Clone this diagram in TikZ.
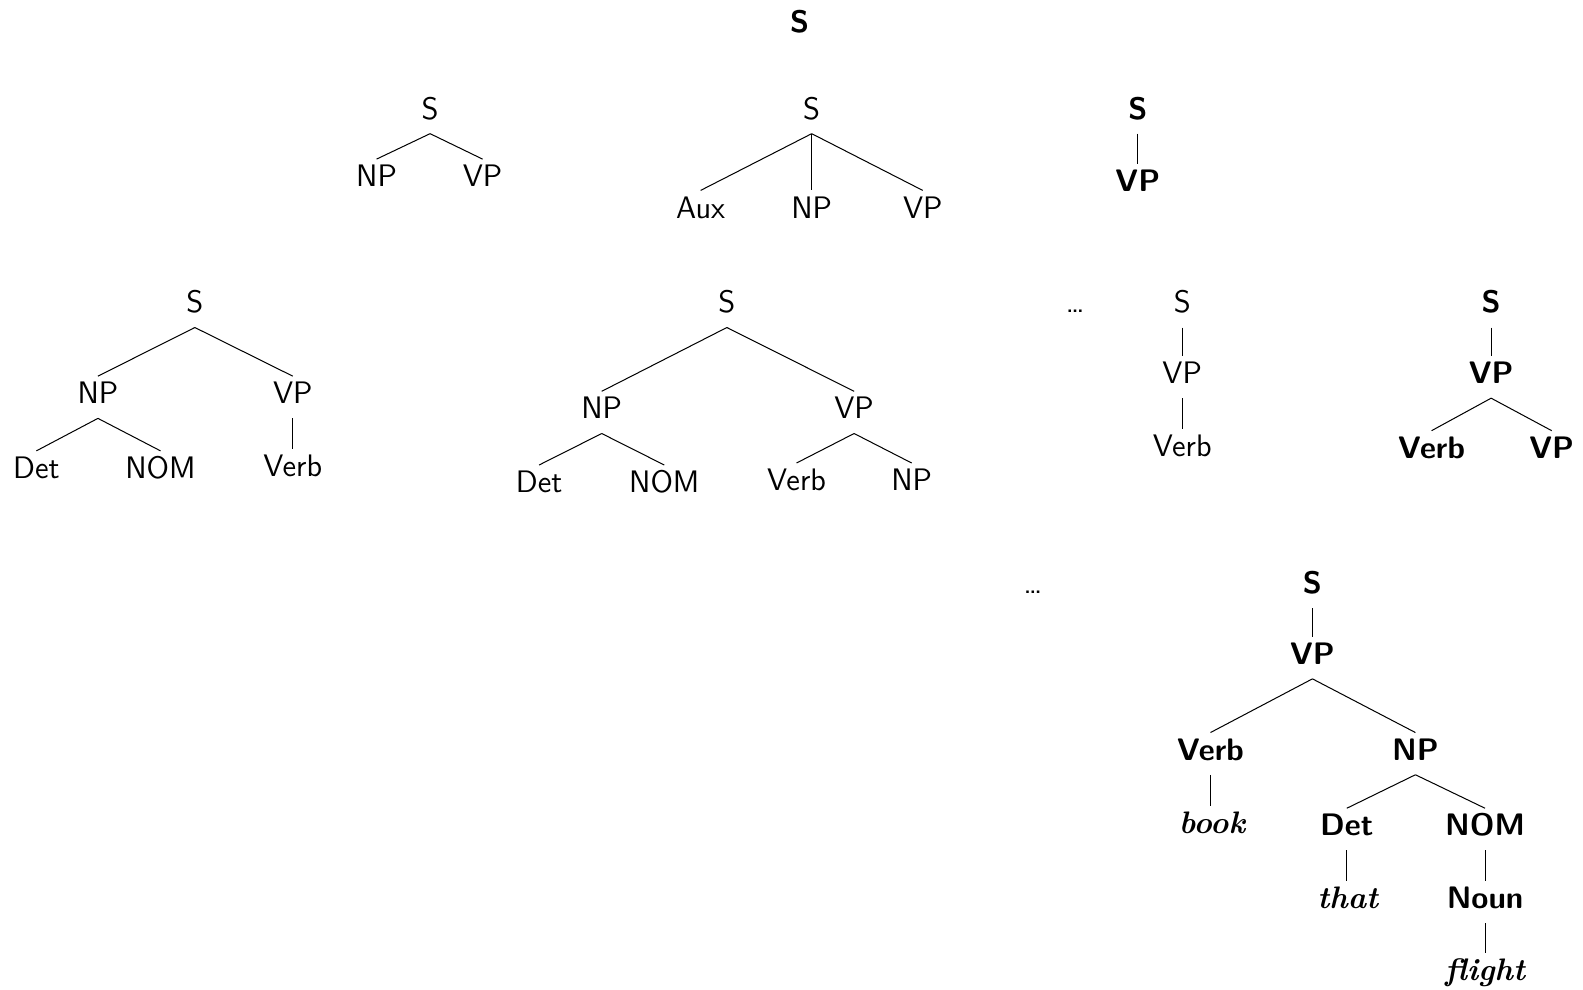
\documentclass[tikz,border=0pt]{standalone}
\usepackage{fontspec}
\tikzset{
  lab/.style={anchor=base, inner sep=2pt, text height=11.5pt, text depth=5pt,
    font=\fontsize{15.4}{18}\selectfont\sffamily},
  blab/.style={lab, font=\fontsize{15.4}{18}\selectfont\sffamily\bfseries},
  wlab/.style={lab, font=\fontsize{15.4}{18}\selectfont\rmfamily\bfseries\itshape},
  wslab/.style={lab, font=\fontsize{15.4}{18}\selectfont\rmfamily\bfseries\itshape\addfontfeatures{LetterSpace=#1}},
  edge/.style={line width=0.5pt},
}
\begin{document}
\begin{tikzpicture}[x=0.5pt,y=-0.5pt]
\useasboundingbox (0,0) rectangle (1568,980);
% top
\node[blab] (top) at (792,32) {S};
% tree A
\node[lab] (aS) at (426,118) {S};
\node[lab] (aNP) at (373,185) {NP};
\node[lab] (aVP) at (478,185) {VP};
\draw[edge] (aS.south) -- (aNP.north);
\draw[edge] (aS.south) -- (aVP.north);
% tree B
\node[lab] (bS) at (804,118) {S};
\node[lab] (bAux) at (694,216) {Aux};
\node[lab] (bNP) at (804,216) {NP};
\node[lab] (bVP) at (914,216) {VP};
\draw[edge] (bS.south) -- (bAux.north);
\draw[edge] (bS.south) -- (bNP.north);
\draw[edge] (bS.south) -- (bVP.north);
% tree C
\node[blab] (cS) at (1127,118) {S};
\node[blab] (cVP) at (1127,190) {VP};
\draw[edge] (cS.south) -- (cVP.north);
% tree D
\node[lab] (dS) at (193,310) {S};
\node[lab] (dNP) at (97,400) {NP};
\node[lab] (dVP) at (290,400) {VP};
\node[lab] (dDet) at (36,474) {Det};
\node[lab] (dNOM) at (159,474) {NOM};
\node[lab] (dVerb) at (290,472) {Verb};
\draw[edge] (dS.south) -- (dNP.north);
\draw[edge] (dS.south) -- (dVP.north);
\draw[edge] (dNP.south) -- (dDet.north);
\draw[edge] (dNP.south) -- (dNOM.north);
\draw[edge] (dVP.south) -- (dVerb.north);
% tree E
\node[lab] (eS) at (720,310) {S};
\node[lab] (eNP) at (596,415) {NP};
\node[lab] (eVP) at (846,415) {VP};
\node[lab] (eDet) at (534,488) {Det};
\node[lab] (eNOM) at (658,488) {NOM};
\node[lab] (eVerb) at (789,486) {Verb};
\node[lab] (eNP2) at (903,486) {NP};
\draw[edge] (eS.south) -- (eNP.north);
\draw[edge] (eS.south) -- (eVP.north);
\draw[edge] (eNP.south) -- (eDet.north);
\draw[edge] (eNP.south) -- (eNOM.north);
\draw[edge] (eVP.south) -- (eVerb.north);
\draw[edge] (eVP.south) -- (eNP2.north);
% dots
\node[lab] (dots1) at (1065,310) {\dots};
\node[lab] (dots2) at (1023,588) {\dots};
% tree F
\node[lab] (fS) at (1171,310) {S};
\node[lab] (fVP) at (1171,380) {VP};
\node[lab] (fVerb) at (1171,452) {Verb};
\draw[edge] (fS.south) -- (fVP.north);
\draw[edge] (fVP.south) -- (fVerb.north);
% tree G
\node[blab] (gS) at (1477,310) {S};
\node[blab] (gVP) at (1477,380) {VP};
\node[blab] (gVerb) at (1418,454) {Verb};
\node[blab] (gVP2) at (1537,454) {VP};
\draw[edge] (gS.south) -- (gVP.north);
\draw[edge] (gVP.south) -- (gVerb.north);
\draw[edge] (gVP.south) -- (gVP2.north);
% tree H
\node[blab] (hS) at (1300,588) {S};
\node[blab] (hVP) at (1300,658) {VP};
\node[blab] (hVerb) at (1199,753) {Verb};
\node[blab] (hNP) at (1402,753) {NP};
\node[wslab=9] (hbook) at (1200.5,826) {book};
\node[blab] (hDet) at (1334,828) {Det};
\node[blab] (hNOM) at (1471,828) {NOM};
\node[wslab=6] (hthat) at (1335,900) {that};
\node[blab] (hNoun) at (1471,900) {Noun};
\node[wlab] (hflight) at (1471,971) {flight};
\draw[edge] (hS.south) -- (hVP.north);
\draw[edge] (hVP.south) -- (hVerb.north);
\draw[edge] (hVP.south) -- (hNP.north);
\draw[edge] (hVerb.south) -- (hVerb.south |- hbook.north);
\draw[edge] (hNP.south) -- (hDet.north);
\draw[edge] (hNP.south) -- (hNOM.north);
\draw[edge] (hDet.south) -- (hDet.south |- hthat.north);
\draw[edge] (hNOM.south) -- (hNoun.north);
\draw[edge] (hNoun.south) -- (hflight.north);
\end{tikzpicture}
\end{document}
